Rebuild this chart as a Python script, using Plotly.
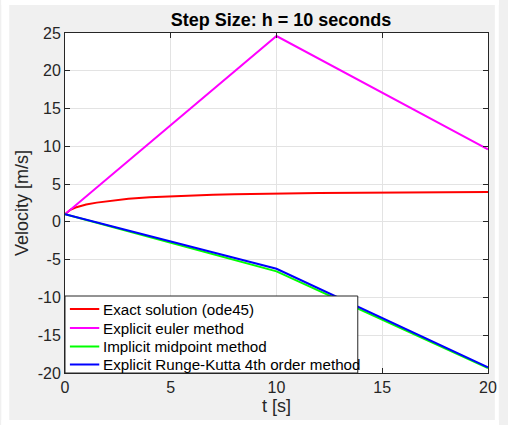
import plotly.graph_objects as go

# Exact solution (ode45), sampled densely
t_exact = [0, 0.25, 0.5, 1, 1.5, 2, 3, 4, 5, 6, 7, 8, 10, 12, 14, 16, 18, 20]
v_exact = [1.0, 1.6, 1.9, 2.3, 2.55, 2.75, 3.05, 3.25, 3.38, 3.5, 3.58, 3.65,
           3.76, 3.83, 3.87, 3.9, 3.92, 3.94]

# Fixed-step solutions with h = 10 s
t_step = [0, 10, 20]
v_euler = [1.0, 24.6, 9.6]
v_midpoint = [1.0, -6.55, -19.35]
v_rk4 = [1.0, -6.2, -19.25]

names = ["Exact solution (ode45)", "Explicit euler method",
         "Implicit midpoint method", "Explicit Runge-Kutta 4th order method"]
colors = ["#ff0000", "#ff00ff", "#00ff00", "#0000ff"]

x_ticks = [0, 5, 10, 15, 20]
y_ticks = [-20, -15, -10, -5, 0, 5, 10, 15, 20, 25]
y_tick_labels = ["-20", "-15", "-10", "-5", "0", "5", "10", "15", "20", "25"]

W, H = 508, 425
L, R, T, B = 65, 11, 33, 52
pw, ph = W - L - R, H - T - B

FONT = "Liberation Sans, Arial, Helvetica, sans-serif"
AX = "#262626"

fig = go.Figure()
series = [(t_exact, v_exact), (t_step, v_euler), (t_step, v_midpoint), (t_step, v_rk4)]
for (x, y), n, c in zip(series, names, colors):
    fig.add_trace(go.Scatter(x=x, y=y, mode="lines", name=n,
                             line=dict(color=c, width=2), showlegend=False))


def px_x(p):
    return (p - L) / pw


def px_y(p):
    return (H - B - p) / ph


# thin white border around the grey figure panel (kept under the text)
for x0, x1, y0, y1 in [(0, W, 0, 5), (0, W, 420, H), (0, 8, 0, H), (504, W, 0, H)]:
    fig.add_shape(type="rect", xref="paper", yref="paper", layer="below",
                  x0=px_x(x0), x1=px_x(x1), y0=px_y(y1), y1=px_y(y0),
                  fillcolor="white", line=dict(width=0))

# legend box in the lower-left corner of the axes
box_l, box_r, box_t, box_b = 65, 364, 296, 373
fig.add_shape(type="rect", xref="paper", yref="paper", layer="above",
              x0=px_x(box_l), x1=px_x(box_r), y0=px_y(box_b), y1=px_y(box_t),
              fillcolor="white", line=dict(color=AX, width=1))
row_y = [309, 328, 346.5, 364.5]
for n, c, yy in zip(names, colors, row_y):
    fig.add_shape(type="line", xref="paper", yref="paper", layer="above",
                  x0=px_x(70), x1=px_x(100), y0=px_y(yy), y1=px_y(yy),
                  line=dict(color=c, width=2))
    fig.add_annotation(xref="paper", yref="paper", x=px_x(102), y=px_y(yy),
                       xanchor="left", yanchor="middle", showarrow=False,
                       text=n, font=dict(family=FONT, size=15.2, color="black"))

axis_common = dict(
    showgrid=True, gridcolor="#e3e3e3", gridwidth=1,
    showline=True, linecolor=AX, linewidth=1, mirror="ticks",
    ticks="inside", ticklen=5, tickcolor=AX, tickwidth=1,
    zeroline=False, tickfont=dict(family=FONT, size=16, color=AX),
)

fig.update_layout(
    width=W, height=H,
    margin=dict(l=L, r=R, t=T, b=B),
    paper_bgcolor="#f0f0f0", plot_bgcolor="white",
    title=dict(text="<b>Step Size: h = 10 seconds</b>", x=(L + pw / 2) / W,
               xanchor="center", y=1 - 20 / H, yanchor="middle",
               font=dict(family=FONT, size=18, color="black")),
    xaxis=dict(range=[0, 20], tickmode="array", tickvals=x_ticks,
               title=dict(text="t [s]", standoff=2,
                          font=dict(family=FONT, size=18, color=AX)),
               **axis_common),
    yaxis=dict(range=[-20, 25], tickmode="array", tickvals=y_ticks,
               ticktext=y_tick_labels,
               title=dict(text="Velocity [m/s]", standoff=4,
                          font=dict(family=FONT, size=18, color=AX)),
               **axis_common),
    showlegend=False,
)

fig.write_html("out.html")
